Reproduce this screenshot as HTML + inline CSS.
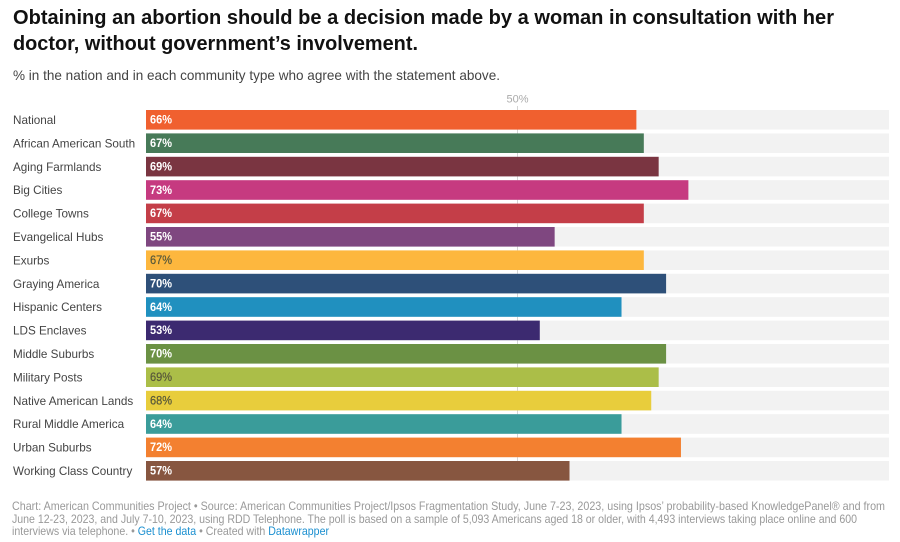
<!DOCTYPE html>
<html lang="en">
<head>
<meta charset="utf-8">
<title>Obtaining an abortion chart</title>
<style>
html,body{margin:0;padding:0;background:#fff;width:900px;height:542px;overflow:hidden}
svg{display:block;font-family:"Liberation Sans",sans-serif}
</style>
</head>
<body>
<svg id="chart" width="900" height="542" viewBox="0 0 900 542" xmlns="http://www.w3.org/2000/svg">
  <text x="13" y="24" font-size="20" font-weight="700" fill="#111" textLength="821" lengthAdjust="spacingAndGlyphs">Obtaining an abortion should be a decision made by a woman in consultation with her</text>
  <text x="13" y="50" font-size="20" font-weight="700" fill="#111" textLength="405" lengthAdjust="spacingAndGlyphs">doctor, without government’s involvement.</text>
  <text x="13" y="80" font-size="14" fill="#444" textLength="487" lengthAdjust="spacingAndGlyphs">% in the nation and in each community type who agree with the statement above.</text>
  <g id="axis"></g>
  <g id="rows"></g>
  <text x="12" y="510" font-size="12" fill="#999" textLength="873" lengthAdjust="spacingAndGlyphs">Chart: American Communities Project • Source: American Communities Project/Ipsos Fragmentation Study, June 7-23, 2023, using Ipsos’ probability-based KnowledgePanel® and from</text>
  <text x="12" y="523" font-size="12" fill="#999" textLength="845" lengthAdjust="spacingAndGlyphs">June 12-23, 2023, and July 7-10, 2023, using RDD Telephone. The poll is based on a sample of 5,093 Americans aged 18 or older, with 4,493 interviews taking place online and 600</text>
  <text x="12" y="535" font-size="12" fill="#999" textLength="317" lengthAdjust="spacingAndGlyphs">interviews via telephone. • <tspan style="fill:#1a8fd0">Get the data</tspan> • Created with <tspan style="fill:#1a8fd0">Datawrapper</tspan></text>
</svg>
<script>
const categories = ["National","African American South","Aging Farmlands","Big Cities","College Towns","Evangelical Hubs","Exurbs","Graying America","Hispanic Centers","LDS Enclaves","Middle Suburbs","Military Posts","Native American Lands","Rural Middle America","Urban Suburbs","Working Class Country"];
const values = [66,67,69,73,67,55,67,70,64,53,70,69,68,64,72,57];
const barColors = ["#f0602f","#477a58","#7a3541","#c63a80","#c43e48","#7f4780","#fdb73e","#2e5079","#2090bf","#3c2a70","#6b9144","#abbe48","#e8cd3c","#3a9c9a","#f38030","#875640"];
const darkTextCategories = ["Exurbs","Military Posts","Native American Lands"];
const axisTicks = [50];

const NS = "http://www.w3.org/2000/svg";
const xScale = v => 146 + v * 7.43;
const yBand = i => 110 + i * 23.4;
const BAND_H = 19.6;

function make(tag, attrs, parent, text) {
  const el = document.createElementNS(NS, tag);
  for (const k in attrs) el.setAttribute(k, attrs[k]);
  if (text !== undefined) el.textContent = text;
  parent.appendChild(el);
  return el;
}

const axisG = document.getElementById("axis");
const rowsG = document.getElementById("rows");

categories.forEach((name, i) => {
  const slug = name.toLowerCase().replace(/\s+/g, "-");
  const y = yBand(i);
  const label = make("text", {x: 13, y: y + 14, "font-size": 11.7, fill: "#444"}, rowsG, name);
  
  
  const track = make("rect", {x: xScale(0), y: y, width: xScale(100) - xScale(0), height: BAND_H, fill: "#f2f2f2"}, rowsG);
  
  
});

axisTicks.forEach(t => {
  const line = make("line", {x1: xScale(t), x2: xScale(t), y1: 106, y2: yBand(categories.length - 1) + BAND_H, stroke: "#d4d4d4", "stroke-width": 1}, axisG);
  
  
  const tick = make("text", {x: xScale(t), y: 102.5, "font-size": 11, fill: "#aaa", "text-anchor": "middle"}, axisG, t + "%");
  
  
});

categories.forEach((name, i) => {
  const slug = name.toLowerCase().replace(/\s+/g, "-");
  const y = yBand(i);
  const bar = make("rect", {x: xScale(0), y: y, width: xScale(values[i]) - xScale(0), height: BAND_H, fill: barColors[i]}, rowsG);
  
  
  const dark = darkTextCategories.includes(name);
  const val = make("text", {
    x: xScale(0) + 4, y: y + 13.6, "font-size": 12,
    "font-weight": dark ? 400 : 700,
    fill: dark ? "#5a5a3a" : "#fff",
    stroke: dark ? "#5a5a3a" : "none",
    "stroke-width": dark ? 0.25 : 0,
    textLength: 22, lengthAdjust: "spacingAndGlyphs"
  }, rowsG, values[i] + "%");
  
  
});
</script>
</body>
</html>
